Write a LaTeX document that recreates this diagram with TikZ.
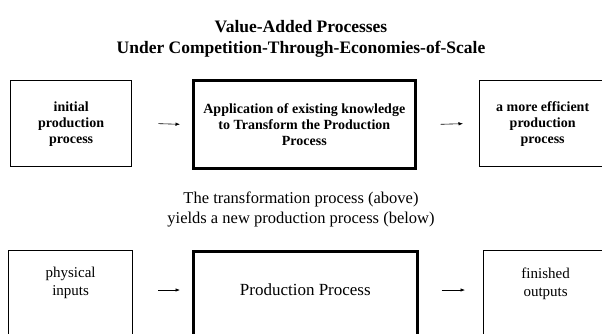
\documentclass[tikz,border=0pt]{standalone}
\usepackage{fontspec}
\setmainfont{Liberation Serif}
\usetikzlibrary{arrows.meta}
\begin{document}
\begin{tikzpicture}[x=1pt,y=1pt,
  box/.style={draw, line width=1.3pt, inner sep=0pt},
  heavybox/.style={draw, line width=2.6pt, inner sep=0pt},
  flow/.style={-{Latex[length=4.5pt,width=3.5pt]}, line width=0.6pt},
  toptext/.style={font=\bfseries\fontsize{14}{16}\selectfont, align=center},
  lowtext/.style={font=\fontsize{15}{18}\selectfont, align=center},
  headtext/.style={font=\bfseries\fontsize{17.5}{21}\selectfont, align=center},
  notetext/.style={font=\fontsize{16.5}{20}\selectfont, align=center},
]
\useasboundingbox (0,0) rectangle (602,-333);
\clip (0,0) rectangle (602,-333);

% heading
\node[headtext] (head) at (301,-39) {Value-Added Processes\\Under Competition-Through-Economies-of-Scale};

% upper row: the transformation process
\node[box, toptext, minimum width=121pt, minimum height=86pt, anchor=north west] (init) at (10,-80)
  {initial\\production\\process};
\node[heavybox, toptext, minimum width=222pt, minimum height=88pt, anchor=north west] (apply) at (192,-79)
  {Application of existing knowledge\\to Transform the Production\\Process};
\node[box, toptext, minimum width=126pt, minimum height=86pt, anchor=north west] (better) at (479,-80)
  {a more efficient\\production\\process};

\draw[flow] ([xshift=26pt]init.east) -- ([xshift=-12pt]apply.west);
\draw[flow] ([xshift=24pt]apply.east) -- ([xshift=-16pt]better.west);

% note between the rows
\node[notetext] (note) at (301,-209) {The transformation process (above)\\yields a new production process (below)};

% lower row: the resulting production process
\node[box, minimum width=124pt, minimum height=100pt, anchor=north west] (inputs) at (8,-250) {};
\node[heavybox, minimum width=224pt, minimum height=100pt, anchor=north west] (prod) at (192,-250) {};
\node[box, minimum width=124pt, minimum height=100pt, anchor=north west] (outputs) at (483,-250) {};

\node[lowtext, anchor=north] (inputsText) at ([yshift=-14pt]inputs.north) {physical\\inputs};
\node[font=\fontsize{17}{20}\selectfont] (prodText) at ([yshift=-40pt]prod.north) {Production Process};
\node[lowtext, anchor=north] (outputsText) at ([yshift=-14pt]outputs.north) {finished\\outputs};

\draw[flow] ([xshift=25pt]inputs.east |- prodText) -- ([xshift=-12pt]prod.west |- prodText);
\draw[flow] ([xshift=23pt]prod.east |- prodText) -- ([xshift=-18pt]outputs.west |- prodText);
\end{tikzpicture}
\end{document}
